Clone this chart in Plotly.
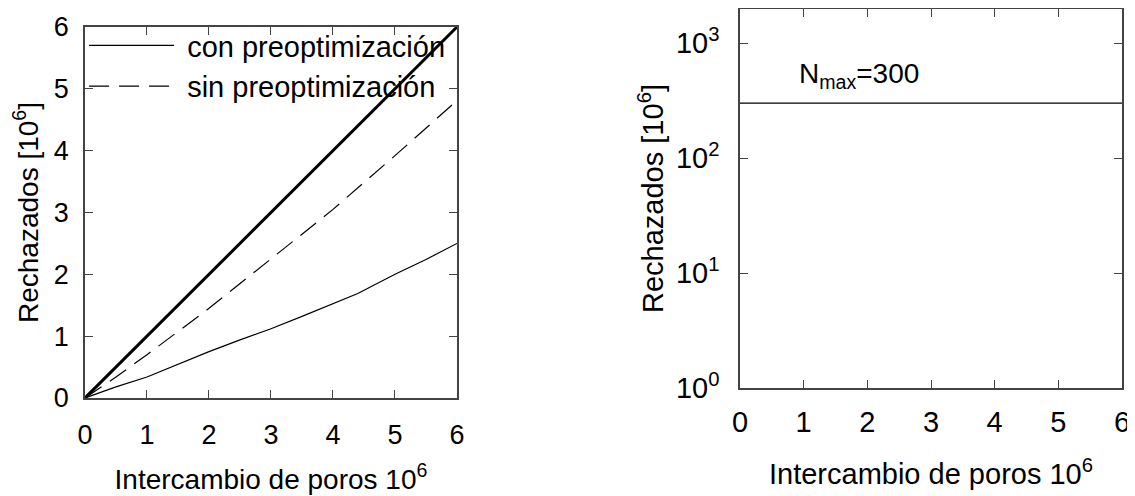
import plotly.graph_objects as go

# Datos (x: intercambio de poros 10^6, y: rechazados 10^6)
x_diag = [0, 6]
y_diag = [0, 6]

x_con = [0, 0.5, 1, 1.5, 2, 2.5, 3, 3.5, 4, 4.4, 5, 5.5, 6]
y_con = [0, 0.18, 0.34, 0.55, 0.75, 0.94, 1.12, 1.32, 1.53, 1.69, 2.0, 2.24, 2.5]

x_sin = [0, 0.5, 1, 2, 3, 4, 5, 6]
y_sin = [0, 0.34, 0.70, 1.45, 2.25, 3.05, 3.92, 4.81]

x_nmax = [0, 6]
y_nmax = [300, 300]

x_ticks = [0, 1, 2, 3, 4, 5, 6]
y_ticks_lin = [0, 1, 2, 3, 4, 5, 6]
y_ticks_log = [1, 10, 100, 1000]
y_ticks_log_text = ["10<sup>0</sup>", "10<sup>1</sup>", "10<sup>2</sup>", "10<sup>3</sup>"]

FONT = "Liberation Sans, Arial, sans-serif"
frame = "#444444"

fig = go.Figure()

fig.add_trace(go.Scatter(x=x_diag, y=y_diag, mode="lines", showlegend=False,
                         line=dict(color="black", width=3), xaxis="x", yaxis="y"))
fig.add_trace(go.Scatter(x=x_con, y=y_con, mode="lines", name="\u00a0con preoptimización",
                         line=dict(color="black", width=1.2), xaxis="x", yaxis="y"))
fig.add_trace(go.Scatter(x=x_sin, y=y_sin, mode="lines", name="\u00a0sin preoptimización",
                         line=dict(color="black", width=1.2, dash="20px,10px"),
                         xaxis="x", yaxis="y"))
fig.add_trace(go.Scatter(x=x_nmax, y=y_nmax, mode="lines", showlegend=False,
                         line=dict(color="black", width=1.2), xaxis="x2", yaxis="y2"))

axis_common = dict(showline=True, linecolor=frame, linewidth=1.5, mirror="ticks",
                   ticks="inside", ticklen=8, tickcolor=frame, tickwidth=1.2,
                   showgrid=False, zeroline=False, automargin=False)

# la pagina deja 8 px de margen, asi que la figura es 8 px menor
fig.update_layout(
    width=1127, height=488,
    margin=dict(l=0, r=0, t=0, b=0),
    paper_bgcolor="white", plot_bgcolor="white",
    font=dict(family=FONT, color="black"),
    xaxis=dict(domain=[0.0683, 0.3984], range=[0, 6], tickvals=x_ticks,
               tickfont=dict(size=27), anchor="y", ticklabelstandoff=12,
               title=dict(text="Intercambio de poros 10<sup>6</sup>", font=dict(size=28), standoff=20),
               **axis_common),
    yaxis=dict(domain=[0.2008, 0.9611], range=[0, 6], tickvals=y_ticks_lin,
               tickfont=dict(size=27), anchor="x", ticklabelstandoff=9,
               title=dict(text="Rechazados [10<sup>6</sup>]", font=dict(size=28), standoff=11),
               **axis_common),
    xaxis2=dict(domain=[0.6495, 0.9885], range=[0, 6], tickvals=x_ticks,
                tickfont=dict(size=29), anchor="y2", ticklabelstandoff=7,
                title=dict(text="Intercambio de poros 10<sup>6</sup>", font=dict(size=29), standoff=27),
                **axis_common),
    yaxis2=dict(domain=[0.2213, 0.998], type="log", range=[0, 3.296],
                tickvals=y_ticks_log, ticktext=y_ticks_log_text,
                tickfont=dict(size=29), anchor="x2", ticklabelstandoff=13,
                title=dict(text="Rechazados [10<sup>6</sup>]", font=dict(size=29), standoff=4),
                **axis_common),
    legend=dict(x=0.0675, y=0.9754, xanchor="left", yanchor="top",
                bgcolor="rgba(0,0,0,0)", font=dict(size=29), itemwidth=85,
                tracegroupgap=0),
    annotations=[dict(text="N<sub>max</sub>=300", x=0.9, y=2.55, xref="x2", yref="y2",
                      xanchor="left", yanchor="bottom", showarrow=False,
                      font=dict(size=28, family=FONT))],
)

fig.write_html("out.html")
